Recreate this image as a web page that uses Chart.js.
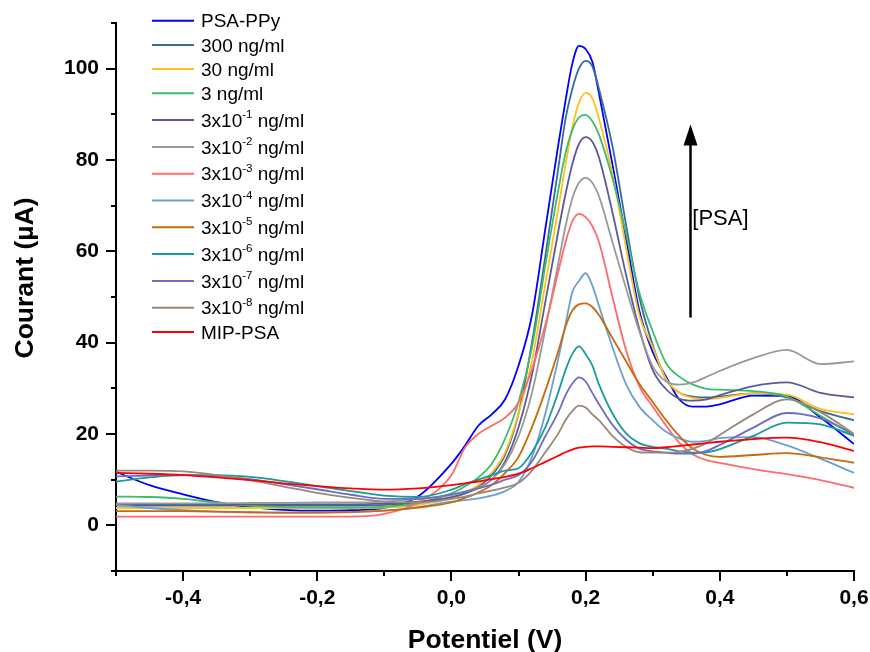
<!DOCTYPE html>
<html>
<head>
<meta charset="utf-8">
<script src="https://cdn.jsdelivr.net/npm/chart.js@4.4.1/dist/chart.umd.min.js"></script>
<style>
  html, body { margin: 0; padding: 0; background: #fff; }
  #wrap { width: 870px; height: 652px; }
</style>
</head>
<body>
<div id="wrap"><canvas id="chart" width="870" height="652"></canvas></div>
<script>
// potential (V), shared by every curve
const potentials = [-0.5, -0.45, -0.4, -0.35, -0.3, -0.25, -0.2, -0.15, -0.1, -0.05,
    0, 0.02, 0.04, 0.06, 0.08, 0.1, 0.12, 0.14, 0.16, 0.17, 0.18, 0.19, 0.2, 0.21, 0.22,
    0.24, 0.26, 0.28, 0.3, 0.32, 0.34, 0.36, 0.38, 0.4, 0.45, 0.5, 0.55, 0.6];

// current (µA)
const psaPpy = [11.7, 8.8, 6.8, 5.1, 4.0, 3.4, 3.2, 3.3, 3.8, 6.3,
    13.5, 17.4, 21.8, 24.3, 27.6, 35.0, 46.0, 65.0, 84.0, 93.0, 101.0, 105.0, 104.3, 101.5, 94.5,
    79.0, 63.0, 47.0, 38.0, 32.5, 27.5, 26.0, 26.0, 26.5, 28.4, 28.3, 23.6, 17.8];
const c300 = [4.3, 4.3, 4.3, 4.3, 4.3, 4.3, 4.3, 4.3, 4.5, 5.0,
    6.0, 7.0, 8.5, 11.0, 15.5, 24.5, 40.0, 59.0, 79.0, 89.0, 95.5, 100.0, 101.7, 100.5, 95.5,
    83.0, 66.0, 50.0, 39.5, 32.0, 29.0, 28.2, 28.0, 28.2, 28.9, 28.0, 25.0, 23.0];
const c30 = [3.8, 3.8, 3.8, 3.8, 3.8, 3.8, 3.8, 3.8, 3.9, 4.5,
    6.0, 7.2, 8.8, 11.5, 16.0, 24.5, 36.0, 53.0, 70.0, 79.0, 87.0, 92.5, 94.7, 93.5, 89.0,
    77.0, 61.0, 46.0, 39.0, 32.0, 29.0, 27.9, 27.6, 27.9, 28.9, 28.6, 25.5, 24.3];
const c3 = [6.3, 6.2, 5.8, 5.0, 4.3, 4.0, 3.9, 3.9, 4.1, 4.8,
    7.0, 8.5, 10.5, 13.5, 19.0, 27.0, 39.0, 57.0, 74.0, 81.5, 86.5, 89.3, 89.9, 88.5, 85.5,
    76.0, 64.0, 51.0, 42.5, 35.5, 32.5, 30.8, 29.9, 29.7, 29.4, 28.2, 24.0, 19.6];
const c3e1 = [4.6, 4.6, 4.6, 4.6, 4.6, 4.6, 4.6, 4.6, 4.8, 5.2,
    6.2, 7.0, 8.2, 10.0, 14.0, 21.5, 33.0, 49.0, 65.0, 72.5, 79.0, 83.5, 85.0, 84.0, 80.5,
    68.5, 55.0, 43.0, 34.0, 29.8, 27.7, 27.3, 27.6, 28.5, 30.5, 31.3, 29.0, 28.0];
const c3e2 = [4.8, 4.8, 4.8, 4.8, 4.9, 4.9, 5.0, 5.0, 5.2, 5.8,
    6.6, 7.3, 8.3, 10.0, 13.5, 19.5, 29.0, 43.0, 58.0, 65.5, 71.5, 75.0, 76.1, 75.0, 72.0,
    62.0, 52.0, 42.5, 34.8, 31.5, 30.8, 31.3, 32.5, 33.8, 36.6, 38.4, 35.3, 35.9];
const c3e3 = [1.9, 1.9, 1.9, 1.9, 1.9, 1.9, 1.9, 1.9, 2.5, 5.0,
    11.0, 17.0, 20.0, 21.8, 23.6, 26.9, 34.2, 44.0, 56.0, 62.0, 66.5, 68.2, 67.5, 65.5, 62.0,
    50.0, 38.5, 30.5, 26.0, 21.8, 18.0, 15.5, 14.3, 13.7, 12.3, 11.2, 9.9, 8.2];
const c3e4 = [4.5, 3.8, 3.3, 3.0, 2.8, 2.8, 2.8, 2.9, 3.2, 4.0,
    5.2, 5.5, 5.9, 6.5, 7.5, 9.5, 15.0, 24.5, 37.0, 44.0, 51.0, 53.5, 55.2, 52.5, 48.0,
    39.0, 31.0, 26.0, 23.0, 20.5, 19.0, 18.3, 18.5, 19.1, 19.3, 17.5, 14.6, 11.5];
const c3e5 = [3.1, 3.1, 3.1, 3.0, 2.9, 2.8, 2.8, 2.9, 3.2, 3.9,
    5.0, 6.0, 7.2, 8.8, 11.5, 15.0, 21.5, 29.5, 38.5, 43.5, 47.0, 48.4, 48.6, 47.8, 46.0,
    41.0, 36.0, 31.0, 27.0, 23.0, 19.5, 16.8, 15.4, 15.0, 15.4, 15.8, 14.9, 13.7];
const c3e6 = [9.6, 10.5, 11.0, 11.0, 10.6, 9.7, 8.6, 7.5, 6.5, 6.2,
    7.8, 9.0, 10.0, 11.0, 12.0, 12.5, 16.0, 21.5, 29.5, 34.0, 37.5, 39.2, 37.5, 35.0, 30.8,
    24.5, 20.2, 18.0, 17.2, 16.8, 16.2, 15.9, 16.0, 16.7, 19.6, 22.5, 22.1, 19.6];
const c3e7 = [10.7, 10.9, 11.0, 10.7, 10.1, 9.0, 7.9, 6.7, 5.8, 5.8,
    6.8, 7.4, 8.1, 8.9, 10.0, 11.0, 14.0, 19.5, 25.0, 28.5, 31.0, 32.4, 31.5, 29.0, 26.5,
    22.0, 18.8, 16.8, 16.2, 15.9, 15.7, 15.7, 16.3, 17.6, 21.4, 24.6, 23.4, 20.0];
const c3e8 = [12.0, 12.0, 11.8, 11.0, 9.9, 8.5, 7.1, 6.0, 5.2, 5.0,
    5.8, 6.3, 7.0, 7.6, 8.3, 9.3, 12.0, 16.0, 20.3, 23.0, 25.0, 26.2, 25.8, 24.3, 23.0,
    19.6, 17.2, 16.0, 15.9, 15.9, 16.1, 16.8, 18.0, 19.8, 24.3, 27.6, 24.8, 20.0];
const mipPsa = [11.5, 11.3, 11.0, 10.5, 9.9, 9.2, 8.6, 8.1, 7.8, 8.1,
    8.8, 9.2, 9.6, 10.1, 10.6, 11.3, 12.5, 13.9, 15.3, 16.0, 16.6, 17.0, 17.2, 17.3, 17.3,
    17.2, 17.1, 17.0, 16.9, 17.1, 17.4, 17.7, 18.0, 18.3, 18.9, 19.2, 18.2, 16.3];

const seriesValues = [psaPpy, c300, c30, c3, c3e1, c3e2, c3e3, c3e4, c3e5, c3e6, c3e7, c3e8, mipPsa];
// '^' marks a superscript that runs to the next space
const seriesLabels = ['PSA-PPy', '300 ng/ml', '30 ng/ml', '3 ng/ml', '3x10^-1 ng/ml', '3x10^-2 ng/ml',
    '3x10^-3 ng/ml', '3x10^-4 ng/ml', '3x10^-5 ng/ml', '3x10^-6 ng/ml', '3x10^-7 ng/ml',
    '3x10^-8 ng/ml', 'MIP-PSA'];
const seriesColors = ['#0000ff', '#376b9b', '#ffc21a', '#3cbc6c', '#5a5a96', '#999999',
    '#ff6b6b', '#6a9fd6', '#c8690d', '#1a9a9a', '#6f6cc4', '#9a8878', '#ff0000'];

const xTickValues = [-0.4, -0.2, 0, 0.2, 0.4, 0.6];
const yTickValues = [0, 20, 40, 60, 80, 100];

const FONT = '"Liberation Sans", Arial, Helvetica, sans-serif';
Chart.defaults.font.family = FONT;
Chart.defaults.color = '#000';

const near = (list, v) => list.some((t) => Math.abs(t - v) < 1e-6);

const datasets = seriesValues.map((vals, i) => ({
    label: seriesLabels[i].replace('^', ''),
    data: potentials.map((p, k) => ({ x: p, y: vals[k] })),
    borderColor: seriesColors[i],
    borderWidth: 1.8,
    pointRadius: 0,
    cubicInterpolationMode: 'monotone',
    order: seriesValues.length - i,
}));

const drawLegend = (ctx) => {
    let rowY = 20.7;
    seriesLabels.forEach((lab, i) => {
        const hasSup = lab.includes('^');
        if (i > 0) {
            rowY += hasSup ? 26.8 : 24.2;
        }
        ctx.strokeStyle = seriesColors[i];
        ctx.lineWidth = 2;
        ctx.beginPath();
        ctx.moveTo(152, rowY);
        ctx.lineTo(194, rowY);
        ctx.stroke();

        const base = rowY + 6.7;
        ctx.fillStyle = '#000';
        ctx.textAlign = 'left';
        ctx.textBaseline = 'alphabetic';
        ctx.font = `19px ${FONT}`;
        if (!hasSup) {
            ctx.fillText(lab, 201, base);
            return;
        }
        const [head, rest] = lab.split('^');
        const sp = rest.indexOf(' ');
        const sup = rest.slice(0, sp);
        const tail = rest.slice(sp);
        let x = 201;
        ctx.fillText(head, x, base);
        x += ctx.measureText(head).width;
        ctx.font = `11.5px ${FONT}`;
        ctx.fillText(sup, x, base - 8.6);
        x += ctx.measureText(sup).width;
        ctx.font = `19px ${FONT}`;
        ctx.fillText(tail, x, base);
    });
};

const decorations = {
    id: 'decorations',
    afterDraw(chart) {
        const { ctx, chartArea, scales: { x, y } } = chart;
        ctx.save();

        // outward ticks, long where labelled
        ctx.strokeStyle = '#000';
        ctx.lineWidth = 2;
        x.ticks.forEach((t) => {
            const px = Math.round(x.getPixelForValue(t.value));
            const len = t.label !== '' ? 10 : 5;
            ctx.beginPath();
            ctx.moveTo(px, chartArea.bottom);
            ctx.lineTo(px, chartArea.bottom + len);
            ctx.stroke();
        });
        y.ticks.forEach((t) => {
            const py = Math.round(y.getPixelForValue(t.value));
            const len = t.label !== '' ? 10 : 5;
            ctx.beginPath();
            ctx.moveTo(chartArea.left, py);
            ctx.lineTo(chartArea.left - len, py);
            ctx.stroke();
        });

        // axis titles
        ctx.fillStyle = '#000';
        ctx.font = `bold 26.5px ${FONT}`;
        ctx.textAlign = 'center';
        ctx.textBaseline = 'alphabetic';
        ctx.fillText('Potentiel (V)', (chartArea.left + chartArea.right) / 2, 648);
        ctx.save();
        ctx.translate(33, 278);
        ctx.rotate(-Math.PI / 2);
        ctx.fillText('Courant (µA)', 0, 0);
        ctx.restore();

        // concentration arrow
        const ax = Math.round(x.getPixelForValue(0.355)) + 0.5;
        const tipY = y.getPixelForValue(87.8);
        const endY = y.getPixelForValue(45.5);
        ctx.lineWidth = 2.5;
        ctx.beginPath();
        ctx.moveTo(ax, endY);
        ctx.lineTo(ax, tipY + 18);
        ctx.stroke();
        ctx.beginPath();
        ctx.moveTo(ax, tipY);
        ctx.lineTo(ax - 7, tipY + 21);
        ctx.lineTo(ax + 7, tipY + 21);
        ctx.closePath();
        ctx.fill();
        ctx.font = `22px ${FONT}`;
        ctx.textAlign = 'left';
        ctx.textBaseline = 'middle';
        ctx.fillText('[PSA]', x.getPixelForValue(0.359), y.getPixelForValue(67.1));

        drawLegend(ctx);
        ctx.restore();
    },
};

new Chart(document.getElementById('chart').getContext('2d'), {
    type: 'line',
    data: { datasets },
    options: {
        responsive: false,
        animation: false,
        devicePixelRatio: 1,
        layout: { padding: { top: 23, right: 16, left: 0, bottom: 0 } },
        plugins: {
            legend: { display: false },
            tooltip: { enabled: false },
        },
        scales: {
            x: {
                type: 'linear',
                min: -0.5,
                max: 0.6,
                grid: { display: false },
                border: { display: true, color: '#000', width: 2 },
                ticks: {
                    stepSize: 0.1,
                    autoSkip: false,
                    maxRotation: 0,
                    padding: 7,
                    font: { size: 21, weight: 'bold' },
                    callback: (v) => (near(xTickValues, v) ? v.toFixed(1).replace('.', ',') : ''),
                },
                afterFit: (scale) => {
                    scale.height = 81;
                    scale.paddingLeft = 0;
                    scale.paddingRight = 0;
                },
            },
            y: {
                type: 'linear',
                min: -10,
                max: 110,
                grid: { display: false },
                border: { display: true, color: '#000', width: 2 },
                ticks: {
                    stepSize: 10,
                    autoSkip: false,
                    padding: 9,
                    font: { size: 21, weight: 'bold' },
                    callback: (v) => (near(yTickValues, v) ? String(v) : ''),
                },
                afterFit: (scale) => {
                    scale.width = 116;
                    scale.paddingTop = 0;
                    scale.paddingBottom = 0;
                },
            },
        },
    },
    plugins: [decorations],
});
</script>
</body>
</html>
